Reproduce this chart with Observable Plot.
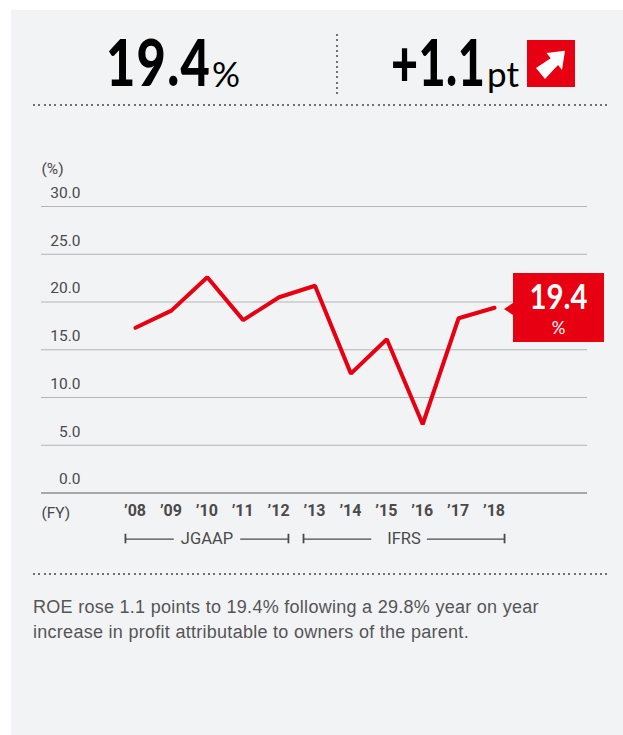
<!DOCTYPE html>
<html><head><meta charset="utf-8">
<script src="https://cdn.jsdelivr.net/npm/d3@7"></script>
<script src="https://cdn.jsdelivr.net/npm/@observablehq/plot@0.6"></script>
<style>
html,body{margin:0;padding:0;background:#fff;}
#page{position:relative;width:623px;height:735px;overflow:hidden;font-family:Roboto,sans-serif;}
#panel{position:absolute;left:11px;top:10px;width:612px;height:725px;background:#f2f3f5;}
#chart{position:absolute;left:0;top:0;}
#chart svg{background:transparent;display:block;}
.abs{position:absolute;white-space:nowrap;line-height:1;}
.big{font-family:Lato,sans-serif;font-weight:900;color:#000;font-size:64px;transform-origin:left center;}
.unit{font-family:Lato,sans-serif;font-weight:400;color:#000;font-size:35px;}
.dh{position:absolute;height:2px;background-image:repeating-linear-gradient(90deg,#707070 0 2px,transparent 2px 5.3px);}
.dv{position:absolute;width:2px;background-image:repeating-linear-gradient(180deg,#707070 0 2px,transparent 2px 5.3px);}
#call{position:absolute;left:513px;top:273px;width:91px;height:69px;background:#e60012;color:#fff;text-align:center;}
#tri{position:absolute;left:504px;top:303px;width:0;height:0;border-top:6.5px solid transparent;border-bottom:6.5px solid transparent;border-right:9px solid #e60012;}
#cap{position:absolute;left:33px;top:595px;font-family:"Liberation Sans",sans-serif;font-weight:400;font-size:18px;letter-spacing:.28px;line-height:25px;color:#555;white-space:nowrap;}
</style></head>
<body>
<div id="page">
  <div id="panel"></div>
  <div id="chart"></div>
  <div class="abs big" id="h1" style="left:106px;top:30px;transform:scaleX(.79);letter-spacing:1.6px"></div>
  <div class="abs unit" style="left:212px;top:56px">%</div>
  <div class="dv" style="left:336px;top:34px;height:62px"></div>
  <div class="abs big" id="h2" style="left:391px;top:30px;transform:scaleX(.73);letter-spacing:.6px"></div>
  <div class="abs unit" style="left:487px;top:56px">pt</div>
  <svg class="abs" style="left:527px;top:40px" width="48" height="47" viewBox="0 0 48 47">
    <rect width="48" height="47" fill="#e60012"/>
    <polygon points="38,10.7 35,30 31,25 18,39 9,28 23.7,18.3 19.5,13" fill="#fff"/>
  </svg>
  <div class="dh" style="left:33px;top:104px;width:576px"></div>
  <div id="tri"></div>
  <div id="call">
    <div class="abs" id="cv" style="left:0;right:0;top:5px;font-family:Lato,sans-serif;font-weight:700;font-size:35px;transform:scaleX(.84);"></div>
    <div class="abs" style="left:0;right:0;top:46px;font-family:Lato,sans-serif;font-size:17px;">%</div>
  </div>
  <div class="dh" style="left:33px;top:573px;width:576px"></div>
  <div id="cap"></div>
</div>
<script>
const years = [2008,2009,2010,2011,2012,2013,2014,2015,2016,2017,2018];
const roe = [17.3,19.1,22.6,18.1,20.5,21.7,12.5,16.1,7.2,18.3,19.4];
const yTicks = [0,5,10,15,20,25,30];
const headline = "19.4";
const change = "+1.1";
const caption = ["ROE rose 1.1 points to 19.4% following a 29.8% year on year","increase in profit attributable to owners of the parent."];
const periods = ["JGAAP","IFRS"];
const periodStart = [2007.72,2012.68];
const periodEnd = [2012.26,2018.28];
const periodMid = [2009.99,2015.48];
const gapStart = [2009.08,2014.58];
const gapEnd = [2010.93,2016.13];
const periodLevel = -4.82;

document.getElementById("h1").textContent = headline;
document.getElementById("h2").textContent = change;
document.getElementById("cv").textContent = roe[roe.length-1].toFixed(1);
document.getElementById("cap").innerHTML = caption.join("<br>");

const idx = periods.map((_,i)=>i);
const ink = "#4a4a4a";
const plot = Plot.plot({
  width:623,height:735,
  marginLeft:41,marginRight:36,marginTop:0,marginBottom:0,
  style:{background:"transparent",fontFamily:"Roboto,sans-serif"},
  x:{type:"linear",domain:[2008,2018],range:[135,494],axis:null},
  y:{type:"linear",domain:[0,30],range:[492.5,206],axis:null},
  marks:[
    Plot.ruleY(yTicks.filter(d=>d>0),{stroke:"#b4b5b6",strokeWidth:1.2}),
    Plot.ruleY([0],{stroke:"#8f8f8f",strokeWidth:1.6}),
    Plot.text(yTicks,{x:()=>2008,y:d=>d,dx:-55,dy:-13.5,textAnchor:"end",text:d=>d.toFixed(1),fontSize:15.5,fill:ink}),
    Plot.text(["(%)"],{x:()=>2008,y:()=>30,dx:-94,dy:-37,textAnchor:"start",fontSize:15.5,fill:ink}),
    Plot.text(["(FY)"],{x:()=>2008,y:()=>0,dx:-94,dy:20,textAnchor:"start",fontSize:15.5,fill:ink}),
    Plot.text(years,{x:d=>d,y:()=>0,dy:18,dx:-0.5,text:d=>"’"+String(d%100).padStart(2,"0"),fontSize:16,fontWeight:700,fill:ink,letterSpacing:"0.6px"}),
    Plot.line(years.map((y,i)=>({y0:y,v:roe[i]})),{x:"y0",y:"v",stroke:"#e60012",strokeWidth:4,strokeLinejoin:"miter",strokeLinecap:"round",curve:"linear"}),
    Plot.ruleY(idx,{x1:i=>periodStart[i],x2:i=>gapStart[i],y:()=>periodLevel,stroke:ink,strokeWidth:1.3}),
    Plot.ruleY(idx,{x1:i=>gapEnd[i],x2:i=>periodEnd[i],y:()=>periodLevel,stroke:ink,strokeWidth:1.3}),
    Plot.ruleX(idx,{x:i=>periodStart[i],y1:()=>periodLevel-0.5,y2:()=>periodLevel+0.5,stroke:ink,strokeWidth:1.8}),
    Plot.ruleX(idx,{x:i=>periodEnd[i],y1:()=>periodLevel-0.5,y2:()=>periodLevel+0.5,stroke:ink,strokeWidth:1.8}),
    Plot.text(idx,{x:i=>periodMid[i],y:()=>periodLevel,text:i=>periods[i],fontSize:16.5,fill:ink})
  ]
});
document.getElementById("chart").appendChild(plot);
</script>
</body></html>
